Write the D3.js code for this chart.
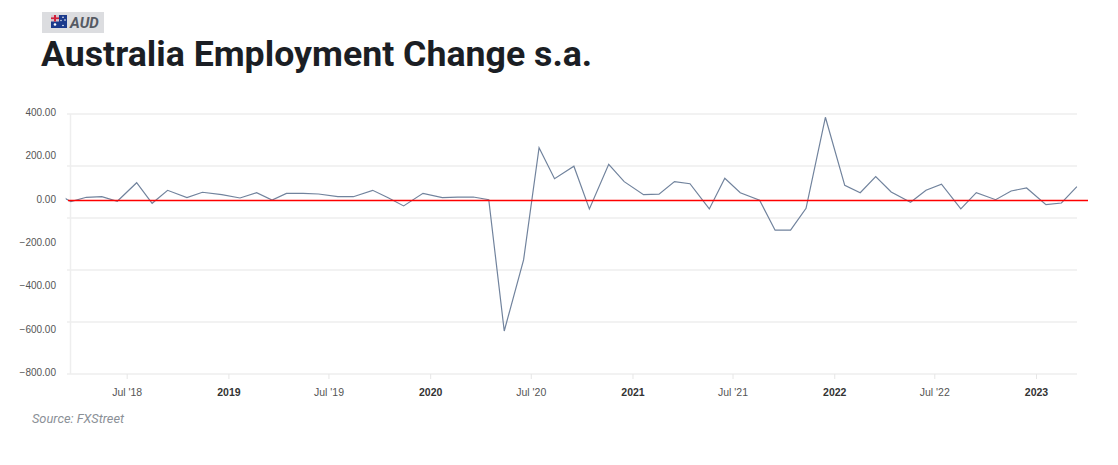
<!DOCTYPE html>
<html>
<head>
<meta charset="utf-8">
<script src="https://cdn.jsdelivr.net/npm/d3@7"></script>
<style>
html, body { margin: 0; padding: 0; background: #fff; }
#chart { display: block; }
.y-axis text { font-family: "Liberation Sans", Arial, sans-serif; font-size: 10px; fill: #555; }
.x-axis text { font-family: "Liberation Sans", Arial, sans-serif; font-size: 10.5px; fill: #555; }
.x-axis text.year { font-weight: bold; fill: #333; }
.domain { display: none; }
</style>
</head>
<body>
<svg id="chart" width="1118" height="465"></svg>
<script>
var dates = ["2018-02-15","2018-03-22","2018-04-19","2018-05-17","2018-06-14","2018-07-19","2018-08-16","2018-09-13","2018-10-18","2018-11-15","2018-12-20",
	"2019-01-22","2019-02-21","2019-03-21","2019-04-16","2019-05-16","2019-06-13","2019-07-18","2019-08-15","2019-09-19","2019-10-17","2019-11-14","2019-12-19",
	"2020-01-23","2020-02-20","2020-03-19","2020-04-16","2020-05-14","2020-06-18","2020-07-16","2020-08-13","2020-09-17","2020-10-15","2020-11-19","2020-12-17",
	"2021-01-21","2021-02-18","2021-03-18","2021-04-15","2021-05-20","2021-06-17","2021-07-15","2021-08-19","2021-09-16","2021-10-14","2021-11-11","2021-12-16",
	"2022-01-20","2022-02-17","2022-03-17","2022-04-14","2022-05-19","2022-06-16","2022-07-14","2022-08-18","2022-09-15","2022-10-20","2022-11-17","2022-12-15",
	"2023-01-19","2023-02-16","2023-03-16"];
var values = [46,-5.5,14.8,17.5,-3.7,82,-13,47,13,38,27,
	11.5,36,2.3,33,33,30,17.5,17.5,47,13,-25,33,
	13,16,16,3.7,-602,-274,243.5,100.5,158,-39,167,87,
	27,29,87,77.5,-39,102.4,36,1,-137,-137,-36,384,
	70,36,110,39,-8,47,75,-39,36,3.7,44,58,
	-19,-11.5,64];
var yTicks = [400,200,0,-200,-400,-600,-800];
var xTicks = ["2018-07-01","2019-01-01","2019-07-01","2020-01-01","2020-07-01","2021-01-01","2021-07-01","2022-01-01","2022-07-01","2023-01-01"];
var xTickLabels = ["Jul '18","2019","Jul '19","2020","Jul '20","2021","Jul '21","2022","Jul '22","2023"];
var gridLines = [0,1,2,3,4,5];

var parseDate = d3.timeParse("%Y-%m-%d");
var svg = d3.select("#chart");

var xScale = d3.scaleTime()
	.domain([parseDate("2018-07-01"), parseDate("2023-01-01")])
	.range([126.7, 1036]);
var yScale = d3.scaleLinear().domain([400, -800]).range([113.8, 373.9]);
// the source draws its gridlines evenly, not on the labelled values
var gridScale = d3.scaleLinear().domain([0, 5]).range([114, 374]);

var points = dates.map(function(d, i) { return {date: parseDate(d), value: values[i]}; });

// header chip
svg.append("rect").attr("x", 42).attr("y", 12).attr("width", 62).attr("height", 21).attr("fill", "#dcdde0");
var flag = svg.append("g").attr("transform", "translate(51,15)");
flag.append("rect").attr("width", 16).attr("height", 13).attr("fill", "#1b3a8c");
flag.append("rect").attr("width", 8).attr("height", 6.5).attr("fill", "#d9c3cc");
flag.append("rect").attr("x", 3).attr("width", 2).attr("height", 6.5).attr("fill", "#d0203a");
flag.append("rect").attr("y", 2.4).attr("width", 8).attr("height", 1.7).attr("fill", "#d0203a");
[[4,9.5,1.3],[12,2.2,0.8],[14,5,0.8],[12,10.5,0.8],[10,5.5,0.7]].forEach(function(s) {
	flag.append("circle").attr("cx", s[0]).attr("cy", s[1]).attr("r", s[2]).attr("fill", "#fff");
});
svg.append("text").attr("x", 70).attr("y", 28)
	.attr("style", "font-family: Roboto; font-weight: bold; font-style: italic; font-size: 15px; fill: #565a63;")
	.text("AUD");
svg.append("text").attr("x", 41).attr("y", 66)
	.attr("style", "font-family: Roboto; font-weight: bold; font-size: 35.7px; fill: #1b1e24;")
	.text("Australia Employment Change s.a.");

// grid
svg.append("g").selectAll("line").data(gridLines).enter().append("line")
	.attr("x1", 67).attr("x2", 1077)
	.attr("y1", function(d) { return gridScale(d); })
	.attr("y2", function(d) { return gridScale(d); })
	.attr("stroke", "#eeeeee").attr("stroke-width", 1.5);
svg.append("line").attr("x1", 70.5).attr("x2", 70.5)
	.attr("y1", gridScale(0)).attr("y2", gridScale(5)).attr("stroke", "#eeeeee").attr("stroke-width", 1.5);

// axes
var yAxis = d3.axisLeft(yScale).tickValues(yTicks).tickSize(0).tickPadding(0).tickFormat(d3.format(".2f"));
svg.append("g").attr("class", "y-axis").attr("transform", "translate(56,-1.5)").call(yAxis);

var xAxis = d3.axisBottom(xScale)
	.tickValues(xTicks.map(parseDate))
	.tickSize(5).tickPadding(9.5)
	.tickFormat(function(d, i) { return xTickLabels[i]; });
var gx = svg.append("g").attr("class", "x-axis").attr("transform", "translate(0,374)").call(xAxis);
gx.selectAll("line").attr("stroke", "#e6e6e6");
gx.selectAll("text").classed("year", function(d, i) { return xTickLabels[i].indexOf("Jul") < 0; });

// series, clipped at the plot edges
svg.append("clipPath").attr("id", "plot-clip").append("rect")
	.attr("x", 65.7).attr("y", 100).attr("width", 1011.8).attr("height", 280);
var line = d3.line()
	.x(function(d) { return xScale(d.date); })
	.y(function(d) { return yScale(d.value); });
svg.append("path").datum(points)
	.attr("clip-path", "url(#plot-clip)")
	.attr("d", line)
	.attr("fill", "none")
	.attr("stroke", "#71839d")
	.attr("stroke-width", 1.2);

// zero line
svg.append("line").attr("x1", 68).attr("x2", 1088)
	.attr("y1", yScale(0)).attr("y2", yScale(0))
	.attr("stroke", "#f00").attr("stroke-width", 1.4);

svg.append("text").attr("x", 32).attr("y", 423)
	.attr("style", "font-family: Roboto; font-style: italic; font-size: 12.8px; fill: #8b9097;")
	.text("Source: FXStreet");
</script>
</body>
</html>
